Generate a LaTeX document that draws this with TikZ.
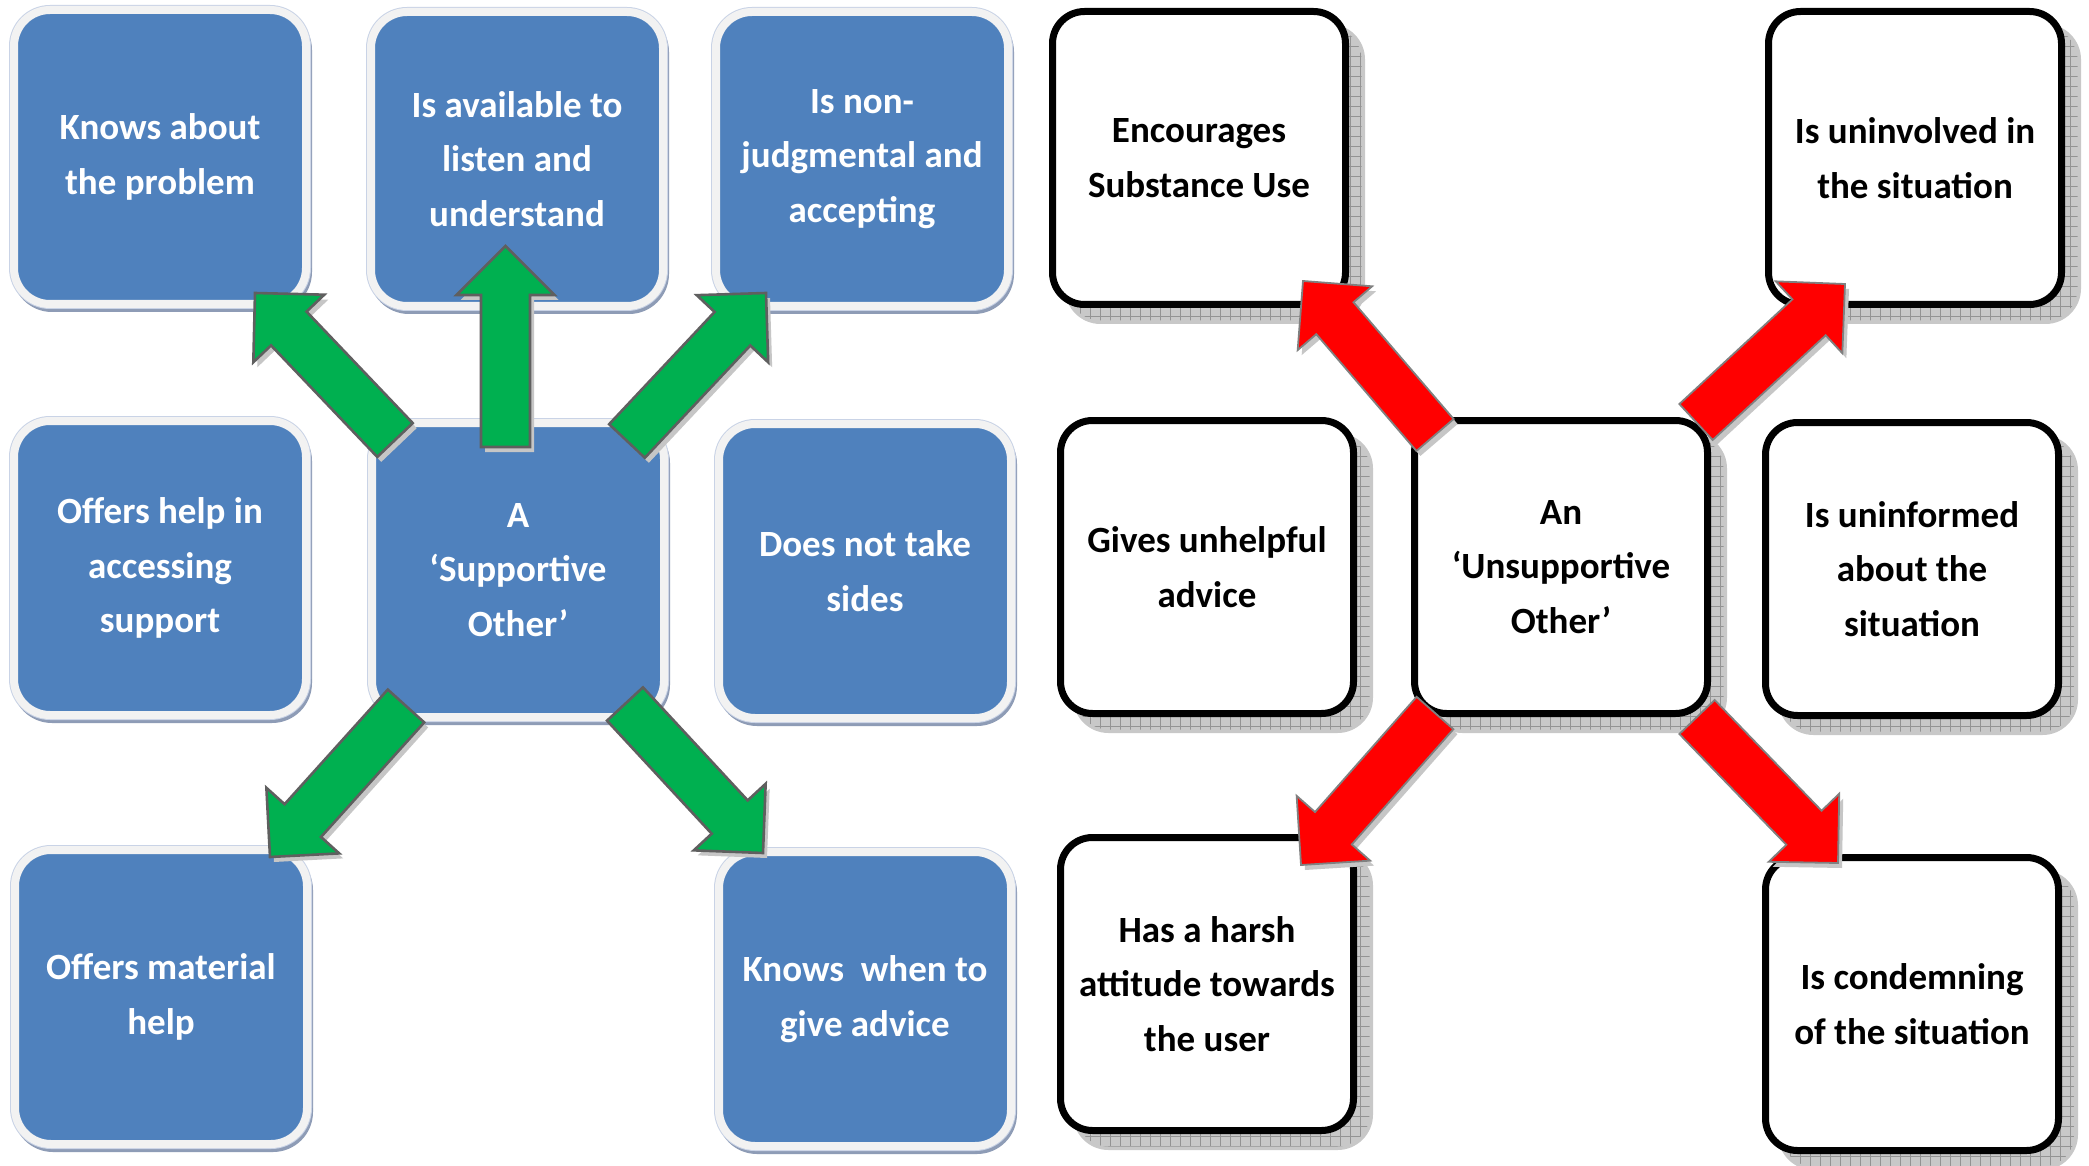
\documentclass[tikz,border=0pt]{standalone}
\usepackage{fontspec}
\setmainfont{Carlito}
\usetikzlibrary{calc,shadows,patterns.meta}

\definecolor{boxblue}{HTML}{4F81BD}
\definecolor{rimgrey}{HTML}{F2F2F2}
\definecolor{rimblue}{HTML}{C9D3E6}
\definecolor{bshadow}{HTML}{8E9CB6}
\definecolor{agreen}{HTML}{00B050}
\definecolor{ared}{HTML}{FF0000}
\definecolor{aline}{HTML}{5F5F5F}
\definecolor{wshadow}{HTML}{C8C8C8}

\tikzset{
 txt/.style={font=\fontsize{18.5}{27.25}\selectfont\bfseries, align=center},
 bluebox/.style={txt, rectangle, rounded corners=18pt, minimum width=146pt, minimum height=147pt,
   fill=boxblue, draw=rimgrey, line width=4pt, text=white,
   general shadow={fill=bshadow, draw=bshadow, shadow xshift=1pt, shadow yshift=-2pt},
   preaction={draw=rimblue, line width=5pt}},
 whitebox/.style={txt, rectangle, rounded corners=16pt, minimum width=146.5pt, minimum height=146.5pt,
   fill=white, draw=black, line width=3.5pt,
   general shadow={fill=wshadow, draw=wshadow, shadow xshift=8pt, shadow yshift=-8pt},
   general shadow={pattern={Hatch[distance=5pt,angle=0,line width=0.4pt]}, pattern color=gray!85, shadow xshift=8pt, shadow yshift=-8pt}},
 greenarrow/.style={fill=agreen, draw=aline, line width=1.3pt, line join=miter},
 redarrow/.style={fill=ared, draw=gray, line width=0.9pt, line join=miter},
 arrowshadow/.style={fill=gray!45, draw=none},
}

\newcommand\arrowpoly[3]{%
  \coordinate (apb) at ($(#2)!24.5pt!(#1)$);
  \path[#3] ($(#1)!12.25pt!90:(#2)$) -- ($(apb)!12.25pt!90:(#2)$) -- ($(apb)!24.5pt!90:(#2)$) -- (#2)
    -- ($(apb)!24.5pt!-90:(#2)$) -- ($(apb)!12.25pt!-90:(#2)$) -- ($(#1)!12.25pt!-90:(#2)$) -- cycle;}
\newcommand\blockarrow[3]{%
  \coordinate (#1s) at ($(#1)+(2pt,-2.5pt)$);
  \coordinate (#2s) at ($(#2)+(2pt,-2.5pt)$);
  \arrowpoly{#1s}{#2s}{arrowshadow}
  \arrowpoly{#1}{#2}{#3}}

\begin{document}
\begin{tikzpicture}[x=0.5pt,y=-0.5pt]
\useasboundingbox[fill=white] (0,0) rectangle (2089,1166);

% supportive side
\node[bluebox] (b1) at (160,157) {Knows about\\the problem};
\node[bluebox] (b2) at (517,159) {Is available to\\listen and\\understand};
\node[bluebox] (b3) at (862,159) {Is non-\\judgmental and\\accepting};
\node[bluebox] (b4) at (160,568) {Offers help in\\accessing\\support};
\node[bluebox] (b5) at (518,570) {A\\‘Supportive\\Other’};
\node[bluebox] (b6) at (865,571) {Does not take\\sides};
\node[bluebox] (b7) at (161,997) {Offers material\\help};
\node[bluebox] (b8) at (865,999) {Knows~ when to\\give advice};

% unsupportive side
\node[whitebox] (r1) at (1199,158) {Encourages\\Substance Use};
\node[whitebox] (r2) at (1915,158) {Is uninvolved in\\the situation};
\node[whitebox] (r3) at (1207,567) {Gives unhelpful\\advice};
\node[whitebox] (r4) at (1561,567) {An\\‘Unsupportive\\Other’};
\node[whitebox] (r5) at (1912,569) {Is uninformed\\about the\\situation};
\node[whitebox] (r6) at (1207,984) {Has a harsh\\attitude towards\\the user};
\node[whitebox] (r7) at (1912,1004) {Is condemning\\of the situation};

% green arrows
\coordinate (g1t) at (395,440);  \coordinate (g1h) at (255,293);
\coordinate (g2t) at (505.5,447); \coordinate (g2h) at (505.5,246);
\coordinate (g3t) at (627,441);  \coordinate (g3h) at (766,293);
\coordinate (g4t) at (406,706);  \coordinate (g4h) at (270,857);
\coordinate (g5t) at (625,704);  \coordinate (g5h) at (763,853);
\blockarrow{g1t}{g1h}{greenarrow}
\blockarrow{g2t}{g2h}{greenarrow}
\blockarrow{g3t}{g3h}{greenarrow}
\blockarrow{g4t}{g4h}{greenarrow}
\blockarrow{g5t}{g5h}{greenarrow}

% red arrows
\coordinate (q1t) at (1435,435); \coordinate (q1h) at (1303,281);
\coordinate (q2t) at (1696,422); \coordinate (q2h) at (1845,284);
\coordinate (q3t) at (1435,713); \coordinate (q3h) at (1301,865);
\coordinate (q4t) at (1697,717); \coordinate (q4h) at (1838,863);
\blockarrow{q1t}{q1h}{redarrow}
\blockarrow{q2t}{q2h}{redarrow}
\blockarrow{q3t}{q3h}{redarrow}
\blockarrow{q4t}{q4h}{redarrow}
\end{tikzpicture}
\end{document}
